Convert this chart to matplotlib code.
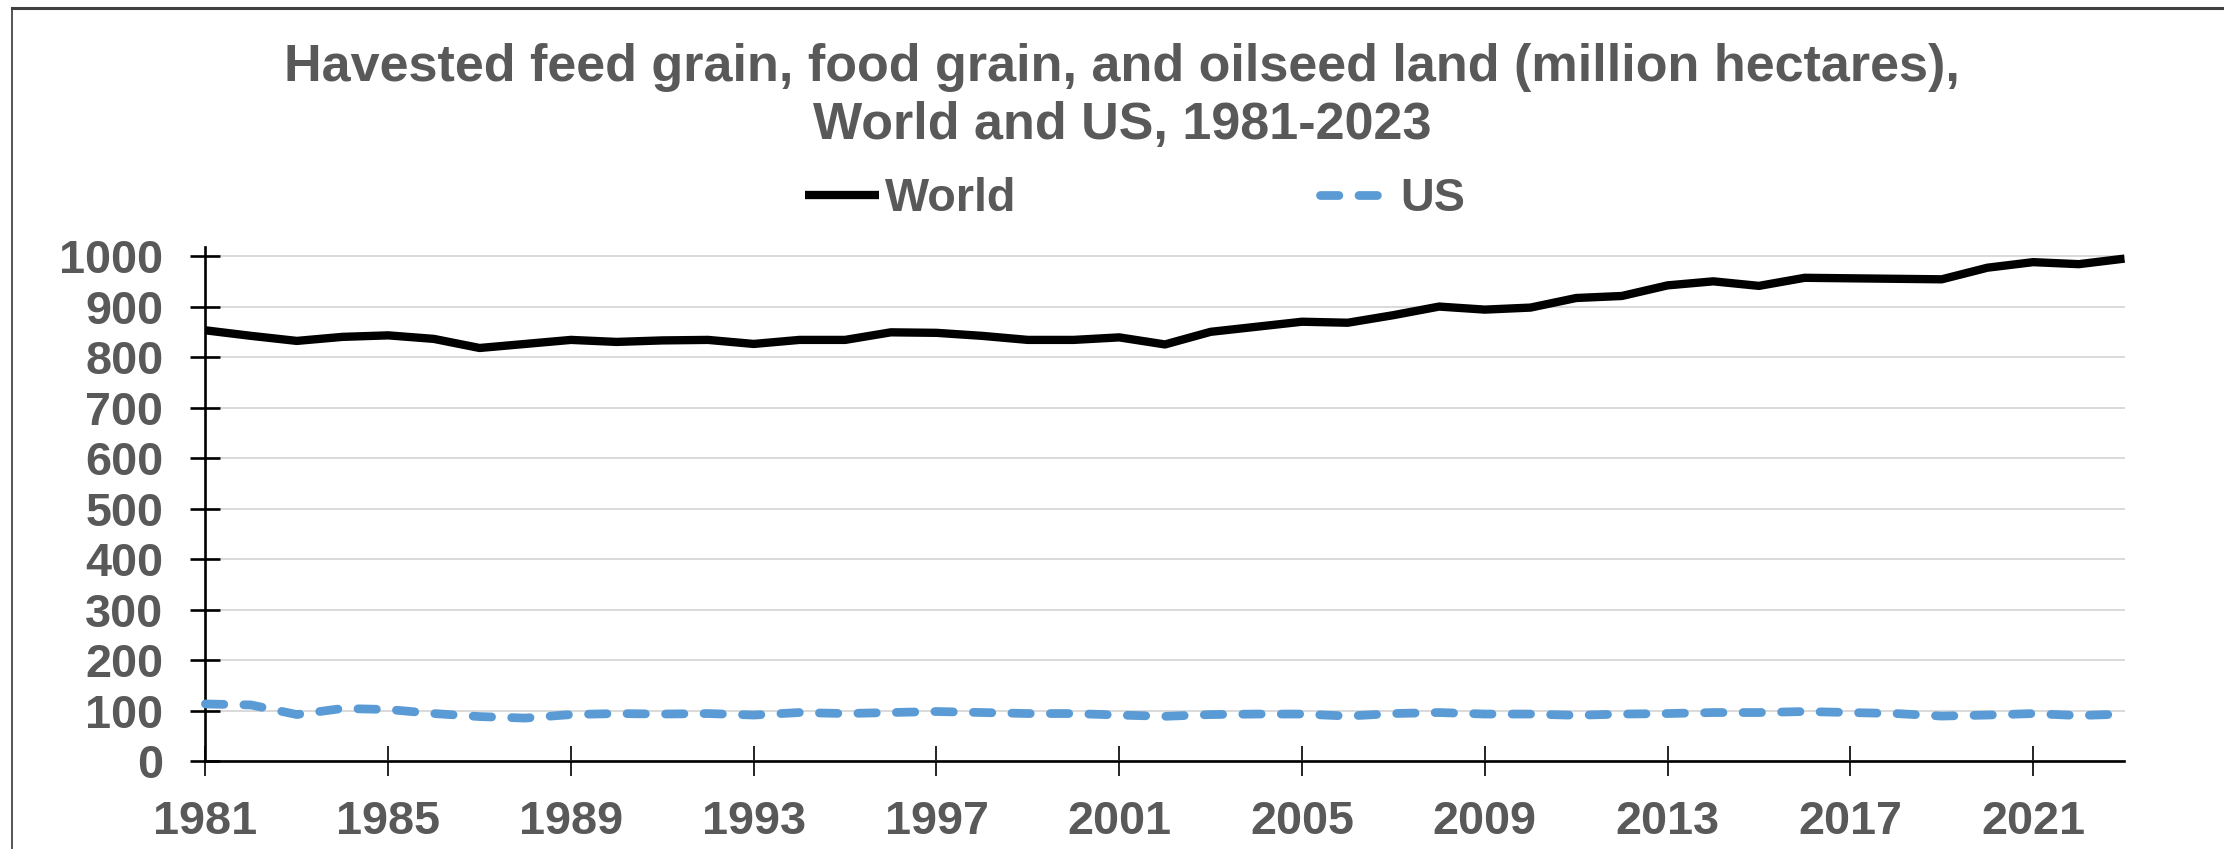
import numpy as np
import matplotlib
matplotlib.use("Agg")
from matplotlib import pyplot as plt
from matplotlib.lines import Line2D

plt.rcParams['font.family'] = ['Liberation Sans', 'DejaVu Sans']
plt.rcParams['font.weight'] = 'bold'

### data (million hectares)
years = list(range(1981, 2024))
world = [853, 842, 832, 840, 843, 836, 818, 826, 834, 830,
         833, 834, 826, 834, 834, 849, 848, 842, 834, 834,
         839, 825, 850, 860, 870, 868, 883, 900, 894, 898,
         917, 921, 942, 950, 941, 957, 956, 955, 954, 977,
         988, 984, 995]
us = [113, 111, 92, 104, 102, 94, 88, 85, 92, 94,
      93, 94, 91, 96, 94, 96, 98, 96, 94, 94,
      91, 88.5, 92, 93, 93, 89, 94, 96, 93, 93,
      90.5, 93, 94, 96, 96, 98, 96, 94, 89, 91,
      94, 90, 93]
xticks = list(range(1981, 2024, 4))
yticks = list(range(0, 1001, 100))

title = ("Havested feed grain, food grain, and oilseed land (million hectares),\n"
         "World and US, 1981-2023")

txt_col = '#595959'
W, H = 2224, 849

fig = plt.figure(figsize=(W/100, H/100), dpi=100)
ax = fig.add_axes([205.4/W, 1-761/H, (2124.5-205.4)/W, (761-247)/H])

ax.plot(years, world, color='black', lw=6.0, solid_capstyle='butt',
        solid_joinstyle='round', clip_on=False, label='World', zorder=4)
ax.plot(years, us, color='#5b9bd5', lw=6.3, linestyle=(0, (2.1, 2.3)),
        dash_capstyle='round', dash_joinstyle='round', clip_on=False,
        label='US', zorder=3)

ax.set_xlim(1981, 2023)
ax.set_ylim(0, 1018)
ax.set_xticks(xticks)
ax.set_yticks(yticks)
ax.yaxis.grid(True, color='#d9d9d9', lw=1.4)
ax.set_axisbelow(True)

for s in ['top', 'right']:
    ax.spines[s].set_visible(False)
ax.spines['left'].set_linewidth(1.9)
ax.spines['bottom'].set_linewidth(1.9)

ax.tick_params(axis='y', direction='inout', length=21, width=1.9,
               pad=19.8, labelsize=33.7, labelcolor=txt_col)
ax.tick_params(axis='x', direction='inout', length=21, width=1.2,
               pad=17.3, labelsize=33.7, labelcolor=txt_col)
for lab in ax.get_xticklabels() + ax.get_yticklabels():
    lab.set_fontweight('bold')

# va='baseline' lines up the last line of a multi-line text
fig.text(1122/W, 1-139/H, title, ha='center', va='baseline',
         multialignment='center', fontsize=37.5, fontweight='bold',
         color=txt_col, linespacing=1.25)

leg = ax.legend(loc='center', bbox_to_anchor=(1135/W, 1-199/H),
                bbox_transform=fig.transFigure, ncol=2, frameon=False,
                fontsize=33.7, handlelength=1.57, handletextpad=0.13,
                columnspacing=6.5, borderpad=0)
for t in leg.get_texts():
    t.set_color(txt_col)
    t.set_fontweight('bold')

# chart area border (cut off on the right and bottom in the screenshot)
fig.add_artist(Line2D([12/W, 12/W], [0, 1-8/H], transform=fig.transFigure,
                      color='#262626', lw=1.1))
fig.add_artist(Line2D([12/W, 1], [1-8/H, 1-8/H], transform=fig.transFigure,
                      color='#404040', lw=2.2))

fig.savefig('out.png', dpi=100)
